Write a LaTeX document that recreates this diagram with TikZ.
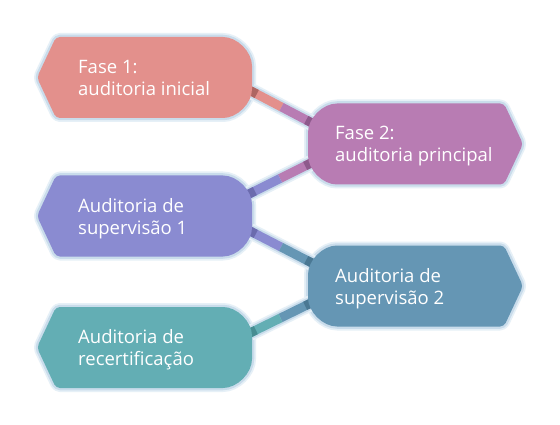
\documentclass[tikz,border=0pt]{standalone}
\usepackage{fontspec}
\setmainfont{Open Sans}
\usetikzlibrary{calc}
\definecolor{cA}{HTML}{E3908C}
\definecolor{cAd}{HTML}{AE6662}
\definecolor{cB}{HTML}{B87CB3}
\definecolor{cBd}{HTML}{8E5A8C}
\definecolor{cC}{HTML}{8A8BD1}
\definecolor{cCd}{HTML}{6B6BAE}
\definecolor{cD}{HTML}{6596B4}
\definecolor{cDd}{HTML}{4A7893}
\definecolor{cE}{HTML}{63AEB4}
\definecolor{cEd}{HTML}{478D92}
\definecolor{haloc}{HTML}{C9DCEB}
\definecolor{halob}{HTML}{E6F0F7}
\newcommand\LShapePath[1]{($(#1.north west)+(19,0)$) -- ($(#1.north east)+(-33,0)$) arc[start angle=90,end angle=0,radius=33] -- ($(#1.south east)+(0,33)$) arc[start angle=0,end angle=-90,radius=33] -- ($(#1.south west)+(19,0)$) -- (#1.west) -- cycle}
\newcommand\RShapePath[1]{($(#1.north east)+(-19,0)$) -- ($(#1.north west)+(33,0)$) arc[start angle=90,end angle=180,radius=33] -- ($(#1.south west)+(0,33)$) arc[start angle=180,end angle=270,radius=33] -- ($(#1.south east)+(-19,0)$) -- (#1.east) -- cycle}
\newcommand\Connector[6]{%
  \draw[link,draw=#3] (#1) -- ($(#1)!.5!(#2)$);
  \draw[link,draw=#5] ($(#1)!.5!(#2)$) -- (#2);
  \draw[link,draw=#4] ($(#1)!-3pt!(#2)$) -- ($(#1)!6.5pt!(#2)$);
  \draw[link,draw=#6] ($(#2)!-3pt!(#1)$) -- ($(#2)!6.5pt!(#1)$);
}
\begin{document}
\begin{tikzpicture}[x=1pt,y=1pt,
  shapebox/.style={minimum width=215pt, minimum height=81pt, inner sep=0pt, outer sep=0pt},
  lbl/.style={text=white, align=left, inner sep=0pt, anchor=west, font=\fontsize{18.5}{22}\selectfont},
  halo/.style={draw=haloc, line width=4.5pt, line join=round, rounded corners=4pt},
  halo2/.style={draw=halob, line width=8pt, line join=round, rounded corners=4pt},
  body/.style={rounded corners=4pt},
  link/.style={line width=9pt},
  linkhalo/.style={draw=haloc, line width=12.5pt},
  linkhalo2/.style={draw=halob, line width=16pt},
]
\useasboundingbox[fill=white] (0,0) rectangle (560,-425);
\node[shapebox] (f1) at (144.5,-77.5) {};
\node[shapebox] (f2) at (415.5,-144) {};
\node[shapebox] (s1) at (144.5,-216) {};
\node[shapebox] (s2) at (415.5,-286) {};
\node[shapebox] (rc) at (144.5,-347.5) {};
\coordinate (a1) at ($(f1.east)+(-1,-13.5)$);
\coordinate (b1) at ($(f2.west)+(4,21)$);
\coordinate (a2) at ($(f2.west)+(3,-19)$);
\coordinate (b2) at ($(s1.east)+(-3,22)$);
\coordinate (a3) at ($(s1.east)+(-2,-15)$);
\coordinate (b3) at ($(s2.west)+(4,23)$);
\coordinate (a4) at ($(s2.west)+(3,-17)$);
\coordinate (b4) at ($(rc.east)+(-2,14.5)$);
% halos of shapes
\foreach \n in {f1,s1,rc}{\draw[halo2] \LShapePath{\n};}
\foreach \n in {f2,s2}{\draw[halo2] \RShapePath{\n};}
\foreach \n in {f1,s1,rc}{\draw[halo] \LShapePath{\n};}
\foreach \n in {f2,s2}{\draw[halo] \RShapePath{\n};}
% connector halos
\draw[linkhalo2] (a1) -- (b1);
\draw[linkhalo2] (a2) -- (b2);
\draw[linkhalo2] (a3) -- (b3);
\draw[linkhalo2] (a4) -- (b4);
\draw[linkhalo] (a1) -- (b1);
\draw[linkhalo] (a2) -- (b2);
\draw[linkhalo] (a3) -- (b3);
\draw[linkhalo] (a4) -- (b4);
% connectors
\Connector{a1}{b1}{cA}{cAd}{cB}{cBd}
\Connector{a2}{b2}{cB}{cBd}{cC}{cCd}
\Connector{a3}{b3}{cC}{cCd}{cD}{cDd}
\Connector{a4}{b4}{cD}{cDd}{cE}{cEd}
% shape bodies
\fill[body,cA] \LShapePath{f1};
\fill[body,cB] \RShapePath{f2};
\fill[body,cC] \LShapePath{s1};
\fill[body,cD] \RShapePath{s2};
\fill[body,cE] \LShapePath{rc};
% labels
\node[lbl] (f1t) at ($(f1.west)+(41,0)$) {\rule{0pt}{19pt}Fase 1:\\auditoria inicial\rule[-5pt]{0pt}{5pt}};
\node[lbl] (f2t) at ($(f2.west)+(27,0)$) {\rule{0pt}{19pt}Fase 2:\\auditoria principal\rule[-5pt]{0pt}{5pt}};
\node[lbl] (s1t) at ($(s1.west)+(41,0)$) {\rule{0pt}{19pt}Auditoria de\\supervisão 1\rule[-5pt]{0pt}{5pt}};
\node[lbl] (s2t) at ($(s2.west)+(27,0)$) {\rule{0pt}{19pt}Auditoria de\\supervisão 2\rule[-5pt]{0pt}{5pt}};
\node[lbl] (rct) at ($(rc.west)+(41,0)$) {\rule{0pt}{19pt}Auditoria de\\recertificação\rule[-5pt]{0pt}{5pt}};
\end{tikzpicture}
\end{document}
